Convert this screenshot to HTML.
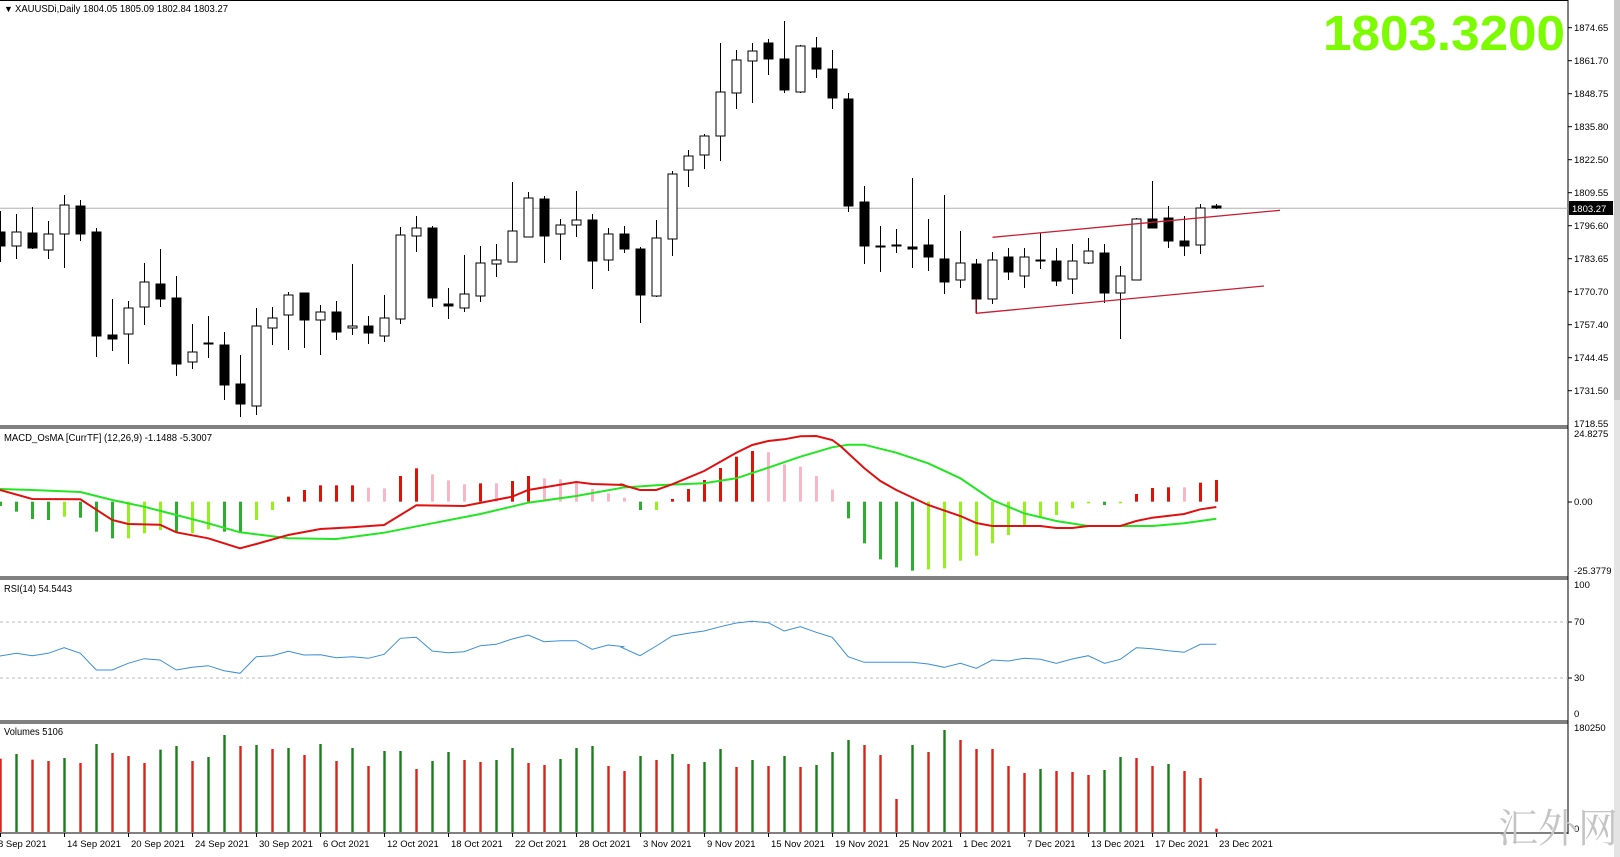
<!DOCTYPE html>
<html><head><meta charset="utf-8"><style>
html,body{margin:0;padding:0;background:#fff;width:1620px;height:857px;overflow:hidden}
svg{display:block}
text{font-family:"Liberation Sans",Arial,sans-serif;fill:#000}
</style></head><body>
<svg id="s" width="1620" height="857" viewBox="0 0 1620 857" xmlns="http://www.w3.org/2000/svg">
<rect width="1620" height="857" fill="#fff"/>
<rect x="1614" y="0" width="6" height="857" fill="#e4e4e4"/>
<rect x="1614" y="0" width="6" height="400" fill="#c8c8c8"/>
<line x1="0" y1="0.5" x2="1568" y2="0.5" stroke="#000"/>
<!-- panel borders -->
<g stroke="#000" stroke-width="1">
<line x1="0" y1="426" x2="1568" y2="426"/><line x1="0" y1="428" x2="1568" y2="428"/>
<line x1="0" y1="577" x2="1568" y2="577"/><line x1="0" y1="579" x2="1568" y2="579"/>
<line x1="0" y1="721" x2="1568" y2="721"/><line x1="0" y1="723" x2="1568" y2="723"/>
<line x1="0" y1="833" x2="1568" y2="833"/>
<line x1="1568" y1="0" x2="1568" y2="834"/>
</g>
<line x1="0" y1="208.3" x2="1568" y2="208.3" stroke="#b0b0b0" stroke-width="1"/>
<line x1="0" y1="622" x2="1568" y2="622" stroke="#bbb" stroke-dasharray="3,3"/>
<line x1="0" y1="678" x2="1568" y2="678" stroke="#bbb" stroke-dasharray="3,3"/>
<g id="g"></g>
<!-- channel -->
<line x1="992.5" y1="237.3" x2="1280" y2="210.3" stroke="#c81e32" stroke-width="1.3"/>
<line x1="976" y1="313.3" x2="1264" y2="286" stroke="#c81e32" stroke-width="1.3"/>
<line x1="976" y1="299" x2="976" y2="313.3" stroke="#c81e32" stroke-width="1.3"/>
<!-- titles -->
<text x="4" y="12" font-size="9">▼</text>
<text x="15" y="12" font-size="10" textLength="213" lengthAdjust="spacingAndGlyphs">XAUUSDi,Daily  1804.05 1805.09 1802.84 1803.27</text>
<text x="1323" y="50" font-size="49" font-weight="bold" style="fill:#7cfc00" textLength="242" lengthAdjust="spacingAndGlyphs">1803.3200</text>
<text x="4" y="441" font-size="10" textLength="208" lengthAdjust="spacingAndGlyphs">MACD_OsMA [CurrTF] (12,26,9) -1.1488 -5.3007</text>
<text x="4" y="592" font-size="10" textLength="68" lengthAdjust="spacingAndGlyphs">RSI(14) 54.5443</text>
<text x="4" y="735" font-size="10" textLength="59" lengthAdjust="spacingAndGlyphs">Volumes 5106</text>
<!-- price axis -->
<g font-size="9.5">
<text x="1574" y="31">1874.65</text><text x="1574" y="64">1861.70</text><text x="1574" y="97">1848.75</text>
<text x="1574" y="130">1835.80</text><text x="1574" y="163">1822.50</text><text x="1574" y="196">1809.55</text>
<text x="1574" y="229">1796.60</text><text x="1574" y="262">1783.65</text><text x="1574" y="295">1770.70</text>
<text x="1574" y="328">1757.40</text><text x="1574" y="361">1744.45</text><text x="1574" y="394">1731.50</text>
<text x="1574" y="427">1718.55</text>
<text x="1574" y="437">24.8275</text><text x="1574" y="505">0.00</text><text x="1574" y="574">-25.3779</text>
<text x="1574" y="588">100</text><text x="1574" y="625">70</text><text x="1574" y="681">30</text><text x="1574" y="717">0</text>
<text x="1574" y="731">180250</text><text x="1574" y="832">0</text>
</g>
<g stroke="#000">
<line x1="1568" y1="27.7" x2="1572" y2="27.7"/><line x1="1568" y1="60.7" x2="1572" y2="60.7"/><line x1="1568" y1="93.7" x2="1572" y2="93.7"/>
<line x1="1568" y1="126.7" x2="1572" y2="126.7"/><line x1="1568" y1="159.7" x2="1572" y2="159.7"/><line x1="1568" y1="192.7" x2="1572" y2="192.7"/>
<line x1="1568" y1="225.7" x2="1572" y2="225.7"/><line x1="1568" y1="258.7" x2="1572" y2="258.7"/><line x1="1568" y1="291.7" x2="1572" y2="291.7"/>
<line x1="1568" y1="324.7" x2="1572" y2="324.7"/><line x1="1568" y1="357.7" x2="1572" y2="357.7"/><line x1="1568" y1="390.7" x2="1572" y2="390.7"/>
<line x1="1568" y1="502" x2="1572" y2="502"/><line x1="1568" y1="622" x2="1572" y2="622"/><line x1="1568" y1="678" x2="1572" y2="678"/>
</g>
<rect x="1569" y="201" width="44" height="14" fill="#000"/>
<text x="1572" y="212" font-size="9.5" style="fill:#fff">1803.27</text>
<!-- dates -->
<g font-size="9.5">
<text x="-2" y="847">8 Sep 2021</text><text x="67" y="847">14 Sep 2021</text><text x="131" y="847">20 Sep 2021</text>
<text x="195" y="847">24 Sep 2021</text><text x="259" y="847">30 Sep 2021</text><text x="323" y="847">6 Oct 2021</text>
<text x="387" y="847">12 Oct 2021</text><text x="451" y="847">18 Oct 2021</text><text x="515" y="847">22 Oct 2021</text>
<text x="579" y="847">28 Oct 2021</text><text x="643" y="847">3 Nov 2021</text><text x="707" y="847">9 Nov 2021</text>
<text x="771" y="847">15 Nov 2021</text><text x="835" y="847">19 Nov 2021</text><text x="899" y="847">25 Nov 2021</text>
<text x="963" y="847">1 Dec 2021</text><text x="1027" y="847">7 Dec 2021</text><text x="1091" y="847">13 Dec 2021</text>
<text x="1155" y="847">17 Dec 2021</text><text x="1219" y="847">23 Dec 2021</text>
</g>
<g stroke="#000" id="dt"></g>
<text x="1498" y="842" font-size="40" style="fill:#c4c4c4;font-family:'Noto Serif CJK SC','Liberation Serif',serif">汇外网</text>
</svg>
<script>
var NS="http://www.w3.org/2000/svg",G=document.getElementById('g');
function el(t,a){var e=document.createElementNS(NS,t);for(var k in a)e.setAttribute(k,a[k]);G.appendChild(e);return e;}
function X(i){return 16.5+16*i;}
var C=[[211,232,246,262,'b'],[214,232,246,259,'w'],[207,233,248,249,'b'],[221,234,250,259,'w'],[195,205,234,268,'w'],[200,206,234,241,'b'],[228,232,336,357,'b'],[299,335,339,351,'b'],[301,308,334,364,'w'],[263,282,307,325,'w'],[249,284,299,307,'b'],[276,298,364,376,'b'],[324,352,362,369,'w'],[316,343,344,358,'d'],[332,345,385,400,'b'],[355,384,404,417,'b'],[308,326,406,415,'w'],[307,318,328,345,'w'],[292,295,315,350,'w'],[293,293,320,348,'b'],[305,312,320,355,'w'],[301,312,332,340,'b'],[264,326,328,335,'w'],[316,326,333,344,'b'],[295,318,336,342,'w'],[227,235,319,324,'w'],[216,228,236,252,'w'],[226,228,298,307,'b'],[288,304,306,319,'b'],[255,294,308,312,'w'],[246,263,296,302,'w'],[244,260,264,277,'w'],[182,231,262,262,'w'],
[192,198,237,237,'w'],[196,199,236,263,'b'],[219,225,234,260,'w'],[191,220,225,237,'w'],[214,220,261,289,'b'],[228,234,260,271,'w'],[226,234,249,253,'b'],[247,249,295,323,'b'],[220,238,296,297,'w'],[171,174,239,256,'w'],[150,156,170,187,'w'],[134,136,155,169,'w'],[43,92,136,161,'w'],[50,60,93,109,'w'],[43,51,61,103,'w'],[39,43,59,75,'b'],[21,59,90,93,'b'],[45,46,92,93,'w'],[37,48,69,78,'b'],[50,69,98,109,'b'],[93,99,206,212,'b'],[186,202,246,264,'b'],[226,246,247,272,'d'],[229,245,246,253,'d'],[178,247,249,268,'b'],[219,245,257,271,'b'],[195,259,282,294,'b'],[231,263,280,288,'w'],[259,264,299,313,'b'],[252,260,299,304,'w'],[248,257,272,280,'b'],[248,257,276,288,'w'],[233,260,261,269,'d'],[248,261,281,286,'b'],[244,261,279,294,'w'],[238,251,263,264,'w'],[244,253,293,303,'b'],[266,276,293,339,'w'],[218,219,280,280,'w'],[181,219,228,228,'b'],[206,218,241,248,'b'],[216,241,246,256,'b'],[204,208,245,254,'w'],[204,206,208,209,'b']];
C.forEach(function(c,k){var i=k-1,x=X(i);
 el('line',{x1:x,y1:c[0],x2:x,y2:c[3],stroke:'#000','stroke-width':1});
 if(c[4]=='d'){el('line',{x1:x-5,y1:c[1]+0.5,x2:x+5,y2:c[1]+0.5,stroke:'#000','stroke-width':2});return;}
 var h=Math.max(c[2]-c[1],2);
 el('rect',{x:x-4.5,y:c[1],width:9,height:h,fill:c[4]=='b'?'#000':'#fff',stroke:'#000','stroke-width':1});
});
// histogram: [zy, color] for i=-1..75 ; zero at zy 245
var H=[[258,'D'],[275,'D'],[297,'D'],[300,'D'],[290,'L'],[293,'D'],[335,'D'],[355,'D'],[355,'L'],[340,'L'],[330,'L'],[335,'D'],[340,'L'],[328,'L'],[335,'D'],[338,'D'],[300,'L'],[270,'L'],[230,'R'],[210,'R'],[196,'R'],[196,'R'],[196,'R'],[203,'P'],[205,'P'],[168,'R'],[145,'R'],[163,'P'],[181,'P'],[193,'P'],[190,'R'],[190,'P'],[183,'R'],[168,'R'],[175,'P'],[178,'P'],[185,'P'],[207,'P'],[220,'P'],[233,'P'],
[270,'D'],[270,'L'],[237,'R'],[207,'R'],[180,'R'],[144,'R'],[110,'R'],[93,'R'],[97,'P'],[133,'P'],[140,'P'],[168,'P'],[209,'P'],[295,'D'],[370,'D'],[418,'D'],[442,'D'],[452,'D'],[448,'L'],[445,'L'],[422,'L'],[407,'L'],[370,'L'],[345,'L'],[315,'L'],[290,'L'],[285,'L'],[265,'L'],[250,'L'],[255,'D'],[250,'L'],[222,'R'],[204,'R'],[202,'R'],[202,'P'],[188,'R'],[180,'R']];
var HC={D:'#33aa33',L:'#99ee22',R:'#e01010',P:'#f5b8c6'};
H.forEach(function(h,k){var x=X(k-1),y0=420+245/3,y=420+h[0]/3;
 el('rect',{x:x-1.5,y:Math.min(y,y0),width:3,height:Math.max(Math.abs(y-y0),1.5),fill:HC[h[1]]});});
function pts(a,b,base){var s=[];for(var i=0;i<a.length;i+=2)s.push((base+a[i]/2.45).toFixed(1)+','+(420+a[i+1]/3).toFixed(1));return s.join(' ');}
var gr7=[0,207,79,210,197,216,275,240,353,260,432,285,510,310,588,337,706,355,824,357,941,338,1059,310,1177,282,1294,248,1412,228,1530,202];
var gr8=[0,203,89,196,206,190,285,175,363,143,442,110,520,82,559,74,598,74,677,98,755,130,834,175,912,240,990,280,1069,303,1147,318,1226,318,1304,318,1382,310,1461,296];
var rd7=[0,210,79,237,197,238,275,300,314,312,392,314,432,337,510,355,588,385,628,372,706,345,785,327,863,322,941,315,1020,256,1137,258,1255,230,1294,210,1412,186,1451,192,1530,195];
var rd8=[0,193,49,210,89,210,128,193,206,153,285,98,324,75,363,63,402,58,442,49,481,48,520,60,540,78,598,144,638,183,677,210,755,255,834,288,873,309,912,318,1030,318,1069,324,1108,324,1147,318,1226,318,1265,303,1304,293,1382,282,1422,268,1461,261];
el('polyline',{points:pts(gr7,0,0)+' '+pts(gr8,0,620),fill:'none',stroke:'#22e622','stroke-width':2});
el('polyline',{points:pts(rd7,0,0)+' '+pts(rd8,0,620),fill:'none',stroke:'#e01010','stroke-width':2});
var rs7=[0,708,40,700,79,707,118,700,157,683,197,700,236,750,275,750,314,730,353,716,392,720,432,750,471,742,510,737,549,752,588,760,628,710,667,707,706,694,745,705,785,704,824,713,863,710,902,715,941,703,981,655,1020,652,1059,693,1098,698,1137,695,1177,677,1216,673,1255,657,1294,645,1333,665,1373,662,1412,662,1451,688,1490,675,1530,680];
var rs8=[0,680,49,707,89,678,128,648,167,640,206,633,246,620,285,609,324,604,363,608,402,633,442,620,481,637,520,652,559,710,598,727,638,727,716,727,755,732,794,742,834,730,873,745,912,720,951,723,990,715,1030,718,1069,730,1108,717,1147,707,1187,730,1226,718,1265,683,1304,686,1343,692,1382,697,1422,673,1461,673];
el('polyline',{points:pts(rs7,0,0)+' '+pts(rs8,0,620),fill:'none',stroke:'#3a8fd8','stroke-width':1});
// volumes
var V=[[185,'r'],[171,'g'],[188,'r'],[192,'r'],[183,'g'],[198,'r'],[141,'g'],[168,'r'],[177,'r'],[198,'r'],[158,'g'],[147,'g'],[192,'r'],[180,'g'],[114,'g'],[147,'r'],[144,'g'],[156,'r'],[153,'g'],[174,'r'],[141,'g'],[192,'r'],[153,'g'],[207,'r'],[162,'g'],[162,'g'],[216,'r'],[192,'g'],[165,'g'],[189,'r'],[195,'r'],[189,'g'],[153,'g'],[198,'r'],[204,'r'],[186,'g'],[153,'g'],[147,'g'],
[207,'r'],[222,'r'],[177,'g'],[189,'r'],[171,'g'],[201,'r'],[195,'g'],[156,'g'],[210,'r'],[189,'g'],[207,'r'],[177,'g'],[210,'r'],[204,'g'],[165,'g'],[129,'g'],[144,'r'],[174,'r'],[306,'r'],[144,'g'],[165,'r'],[99,'g'],[129,'r'],[156,'r'],[156,'r'],[207,'r'],[228,'r'],[216,'g'],[222,'r'],[225,'r'],[234,'r'],[219,'g'],[180,'g'],[183,'r'],[207,'r'],[201,'g'],[222,'r'],[243,'r'],[395,'r']];
V.forEach(function(v,k){var x=X(k-1),y=697+v[0]/3;
 el('rect',{x:x-1.2,y:y,width:2.4,height:832-y,fill:v[1]=='g'?'#1f7a1f':'#dd2020'});});
var D=document.getElementById('dt');
for(var t=0;t<=1216;t+=64){var l=document.createElementNS(NS,'line');l.setAttribute('x1',t+0.5);l.setAttribute('x2',t+0.5);l.setAttribute('y1',833);l.setAttribute('y2',837);D.appendChild(l);}
</script>
</body></html>
